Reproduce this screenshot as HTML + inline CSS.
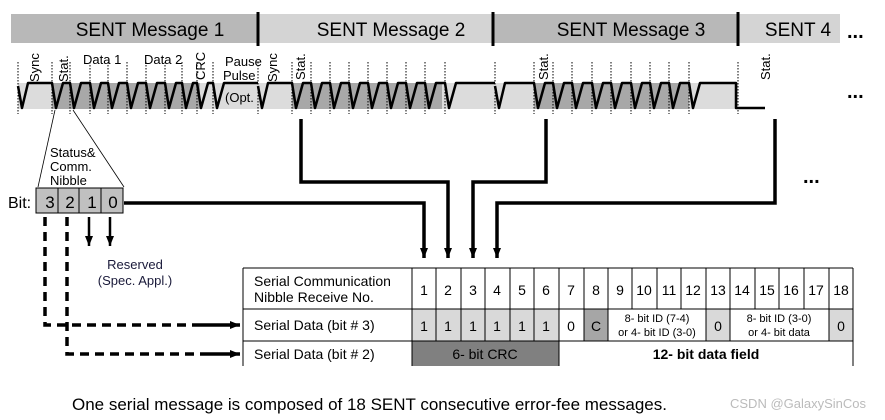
<!DOCTYPE html>
<html><head><meta charset="utf-8"><style>
html,body{margin:0;padding:0;background:#fff;}
svg{display:block;font-family:"Liberation Sans",Arial,sans-serif;}
</style></head><body>
<svg width="885" height="420" viewBox="0 0 885 420" xmlns="http://www.w3.org/2000/svg">
<defs>
<marker id="ah" markerWidth="12" markerHeight="12" refX="10" refY="5" orient="auto" markerUnits="userSpaceOnUse">
<path d="M0,1 L10,5 L0,9 Z" fill="#000"/></marker>
</defs>
<rect x="11" y="14" width="247" height="29" fill="#b8b8b8"/>
<rect x="258" y="14" width="235" height="29" fill="#d4d4d4"/>
<rect x="493" y="14" width="245" height="29" fill="#b8b8b8"/>
<rect x="738" y="14" width="102" height="29" fill="#d4d4d4"/>
<g stroke="#000" stroke-width="3"><line x1="258" y1="12" x2="258" y2="46"/><line x1="493" y1="12" x2="493" y2="46"/><line x1="738" y1="12" x2="738" y2="46"/></g>
<g font-size="19" text-anchor="middle" fill="#000">
<text x="150" y="36">SENT Message 1</text><text x="391" y="36">SENT Message 2</text><text x="631" y="36">SENT Message 3</text><text x="798" y="36">SENT 4</text></g>
<text x="847" y="38" font-size="20" font-weight="bold">...</text>
<text x="847" y="98" font-size="20" font-weight="bold">...</text>
<text x="803" y="183" font-size="20" font-weight="bold">...</text>
<rect x="18" y="83" width="240" height="26" fill="#dcdcdc"/>
<rect x="52" y="83" width="148" height="26" fill="#a8a8a8"/>
<rect x="258" y="83" width="237" height="26" fill="#dcdcdc"/>
<rect x="292" y="83" width="150" height="26" fill="#a8a8a8"/>
<rect x="495" y="83" width="243" height="26" fill="#dcdcdc"/>
<rect x="534" y="83" width="155" height="26" fill="#a8a8a8"/>
<g stroke="#000" stroke-width="1" stroke-dasharray="1.5,1.5">
<path d="M18 62V114M52 62V114M70 62V114M90 62V114M108 62V114M127 62V114M146 62V114M165 62V114M182 62V114M197 62V114M213 62V114M258 62V114M292 62V114M311 62V114M330 62V114M349 62V114M368 62V114M387 62V114M406 62V114M425 62V114M445 62V114M495 62V114M534 62V114M553 62V114M572 62V114M592 62V114M611 62V114M631 62V114M650 62V114M669 62V114M689 62V114M738 62V114"/></g>
<g fill="none" stroke="#000" stroke-width="2.5" stroke-linejoin="round">
<path d="M18 86 L22 108 L28 83 H52 L56 108 L63 83 H70 L74 108 L81 83 H90 L94 108 L101 83 H108 L112 108 L119 83 H127 L131 108 L138 83 H146 L150 108 L157 83 H165 L169 108 L176 83 H182 L186 108 L193 83 H197 L201 108 L208 83 H213 L217 108 L224 83 H258"/>
<path d="M258 86 L262 108 L268 83 H292 L296 108 L303 83 H311 L315 108 L322 83 H330 L334 108 L341 83 H349 L353 108 L360 83 H368 L372 108 L379 83 H387 L391 108 L398 83 H406 L410 108 L417 83 H425 L429 108 L436 83 H445 L449 108 L456 83 H495"/>
<path d="M495 86 L499 108 L505 83 H534 L538 108 L545 83 H553 L557 108 L564 83 H572 L576 108 L583 83 H592 L596 108 L603 83 H611 L615 108 L622 83 H631 L635 108 L642 83 H650 L654 108 L661 83 H669 L673 108 L680 83 H689 L693 108 L700 83 H736 V108 H765"/>
</g>
<g font-size="13" fill="#000">
<text transform="translate(39,82) rotate(-90)">Sync</text>
<text transform="translate(68,82) rotate(-90)">Stat.</text>
<text x="83" y="64">Data 1</text><text x="144" y="64">Data 2</text>
<text transform="translate(205,80) rotate(-90)">CRC</text>
<text x="225" y="66">Pause</text><text x="223" y="80">Pulse</text><text x="225" y="102">(Opt.</text>
<text transform="translate(277,82) rotate(-90)">Sync</text>
<text transform="translate(305,80) rotate(-90)">Stat.</text>
<text transform="translate(548,80) rotate(-90)">Stat.</text>
<text transform="translate(770,80) rotate(-90)">Stat.</text>
</g>
<g stroke="#000" stroke-width="0.8"><line x1="55" y1="110" x2="38" y2="187"/><line x1="73" y1="110" x2="124" y2="187"/></g>
<g font-size="13"><text x="50" y="157">Status&amp;</text><text x="50" y="171">Comm.</text><text x="50" y="185">Nibble</text></g>
<text x="8" y="208" font-size="16">Bit:</text>
<g fill="#c0c0c0" stroke="#000" stroke-width="1"><rect x="36" y="188" width="22" height="25"/><rect x="58" y="188" width="21" height="25"/><rect x="79" y="188" width="22" height="25"/><rect x="101" y="188" width="22" height="25"/></g>
<g font-size="17" text-anchor="middle"><text x="50" y="208">3</text><text x="70" y="208">2</text><text x="92" y="208">1</text><text x="113" y="208">0</text></g>
<g fill="none" stroke="#000" stroke-width="3.5" marker-end="url(#ah)">
<path d="M124 203 H424 V258"/>
<path d="M301 119 V182 H448 V258"/>
<path d="M546 119 V182 H473 V258"/>
<path d="M775 119 V203 H497 V258"/>
</g>
<g fill="none" stroke="#000" stroke-width="2.5" marker-end="url(#ah)">
<path d="M89 217 V246"/><path d="M110 217 V246"/></g>
<g fill="none" stroke="#000" stroke-width="3.5" stroke-dasharray="9,6">
<path d="M45 217 V325 H200"/><path d="M67 217 V354 H200"/></g>
<g stroke="#000" stroke-width="3.5" marker-end="url(#ah)"><line x1="200" y1="325" x2="240" y2="325" /><line x1="200" y1="354" x2="240" y2="354"/></g>
<g font-size="13" fill="#1a1a3a" text-anchor="middle"><text x="135" y="269">Reserved</text><text x="135" y="285">(Spec. Appl.)</text></g>
<g>
<rect x="412" y="309" width="147" height="32" fill="#d9d9d9"/>
<rect x="584" y="309" width="24" height="32" fill="#a6a6a6"/>
<rect x="706" y="309" width="24" height="32" fill="#d9d9d9"/>
<rect x="829" y="309" width="24" height="32" fill="#d9d9d9"/>
<rect x="412" y="341" width="147" height="25" fill="#808080"/>
</g>
<g stroke="#000" stroke-width="1" fill="none">
<path d="M243 268 H853 M243 309 H853 M243 341 H853 M243 268 V366 M412 268 V366 M853 268 V366 M559 341 V366"/>
<path d="M436 268V341M461 268V341M485 268V341M510 268V341M534 268V341M559 268V341M584 268V341M608 268V341M632 268V309M657 268V309M681 268V309M706 268V341M730 268V341M755 268V309M779 268V309M804 268V309M829 268V341"/>
</g>
<g font-size="14" text-anchor="middle">
<text x="424" y="295">1</text><text x="448" y="295">2</text><text x="473" y="295">3</text><text x="497" y="295">4</text><text x="522" y="295">5</text><text x="546" y="295">6</text><text x="571" y="295">7</text><text x="596" y="295">8</text><text x="620" y="295">9</text><text x="644" y="295">10</text><text x="669" y="295">11</text><text x="693" y="295">12</text><text x="718" y="295">13</text><text x="742" y="295">14</text><text x="767" y="295">15</text><text x="791" y="295">16</text><text x="816" y="295">17</text><text x="841" y="295">18</text>
<text x="424" y="331">1</text><text x="448" y="331">1</text><text x="473" y="331">1</text><text x="497" y="331">1</text><text x="522" y="331">1</text><text x="546" y="331">1</text><text x="571" y="331">0</text><text x="596" y="331">C</text><text x="718" y="331">0</text><text x="841" y="331">0</text>
<text x="485" y="359">6- bit CRC</text>
<text x="706" y="359" font-weight="bold">12- bit data field</text>
</g>
<g font-size="11" text-anchor="middle"><text x="657" y="322">8- bit ID (7-4)</text><text x="657" y="336">or 4- bit ID (3-0)</text><text x="779" y="322">8- bit ID (3-0)</text><text x="779" y="336">or 4- bit data</text></g>
<g font-size="14"><text x="254" y="286">Serial Communication</text><text x="254" y="302">Nibble Receive No.</text><text x="254" y="330">Serial Data (bit # 3)</text><text x="254" y="359">Serial Data (bit # 2)</text></g>
<text x="72" y="410" font-size="17">One serial message is composed of 18 SENT consecutive error-fee messages.</text>
<text x="730" y="408" font-size="13" fill="#bbbbbb">CSDN @GalaxySinCos</text>
</svg>
</body></html>
